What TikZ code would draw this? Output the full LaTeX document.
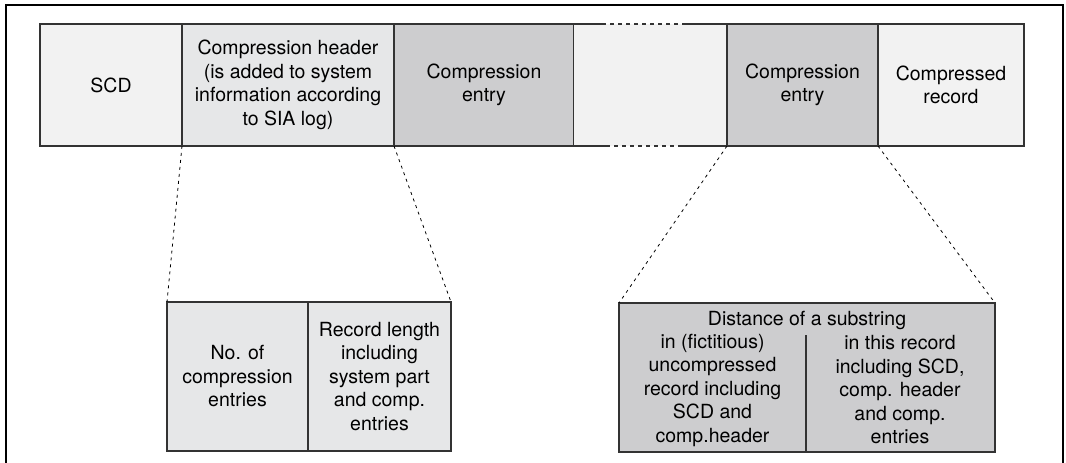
\documentclass[tikz,border=0pt]{standalone}
\usepackage{fontspec}
\setmainfont{TeX Gyre Heros}
\definecolor{lightc}{HTML}{F2F2F2}
\definecolor{midc}{HTML}{E6E7E8}
\definecolor{darkc}{HTML}{CDCDCF}
\definecolor{edgec}{HTML}{333333}
\begin{document}
\begin{tikzpicture}[x=1pt,y=-1pt,
  every node/.style={font=\fontsize{19.5}{23.5}\selectfont, text=black, inner sep=0pt, outer sep=0pt},
  cell/.style={draw=edgec, line width=1.1pt, minimum height=122pt, align=center},
  lbox/.style={draw=edgec, line width=1.1pt, minimum height=149pt, align=center},
  txt/.style={align=center},
  zoomline/.style={draw=black, line width=0.8pt, dash pattern=on 3pt off 4pt},
  breakline/.style={draw=edgec, line width=1.1pt, dash pattern=on 4pt off 4pt}]
\useasboundingbox (0,0) rectangle (1066,463);
% outer frame (open at bottom)
\draw[black, line width=1.1pt] (6,470) -- (6,5) -- (1063,5) -- (1063,470);
% top bar
\node[cell, fill=lightc, minimum width=142pt] (scd) at (111,85) {SCD};
\node[cell, fill=midc, minimum width=212pt] (hdr) at (288,85) {Compression header\\(is added to system\\information according\\to SIA log)};
\node[cell, fill=darkc, minimum width=180pt] (ce1) at (484,85) {Compression\\entry};
\node[fill=lightc, minimum width=153pt, minimum height=122pt] (gap) at (650.5,85) {};
\node[cell, fill=darkc, minimum width=151pt] (ce2) at (802.5,85) {Compression\\entry};
\node[cell, fill=lightc, minimum width=146pt] (rec) at (951,85) {Compressed\\record};
% break in the record (top and bottom edges of the gap cell)
\coordinate (gt1) at (602,24); \coordinate (gt2) at (684,24);
\coordinate (gb1) at (606,146); \coordinate (gb2) at (679,146);
\draw[edgec, line width=1.1pt] (gap.north west) -- (gt1);
\draw[edgec, line width=1.1pt] (gt2) -- (gap.north east);
\draw[breakline] (gt1) -- (gt2);
\draw[edgec, line width=1.1pt] (gap.south west) -- (gb1);
\draw[edgec, line width=1.1pt] (gb2) -- (gap.south east);
\draw[breakline] (gb1) -- (gb2);
% lower left detail
\node[lbox, fill=midc, minimum width=141pt] (nent) at (237.5,376.5) {No. of\\compression\\entries};
\node[lbox, fill=midc, minimum width=143pt] (rlen) at (379.5,376.5) {Record length\\including\\system part\\and comp.\\entries};
% lower right detail
\node[lbox, fill=darkc, minimum width=376pt] (dist) at (807,377.5) {};
\node[txt] (disth) at (807,320) {Distance of a substring};
\node[txt] (distl) at (712.5,390) {in (fictitious)\\uncompressed\\record including\\SCD and\\comp.header};
\node[txt] (distr) at (900,390) {in this record\\including SCD,\\comp. header\\and comp.\\entries};
\coordinate (divt) at (806,335);
\draw[edgec, line width=1.1pt] (divt) -- (divt |- dist.south);
% zoom connectors
\draw[zoomline] (hdr.south west) -- (nent.north west);
\draw[zoomline] (hdr.south east) -- (rlen.north east);
\draw[zoomline] (ce2.south west) -- (dist.north west);
\draw[zoomline] (ce2.south east) -- (dist.north east);
\end{tikzpicture}
\end{document}
